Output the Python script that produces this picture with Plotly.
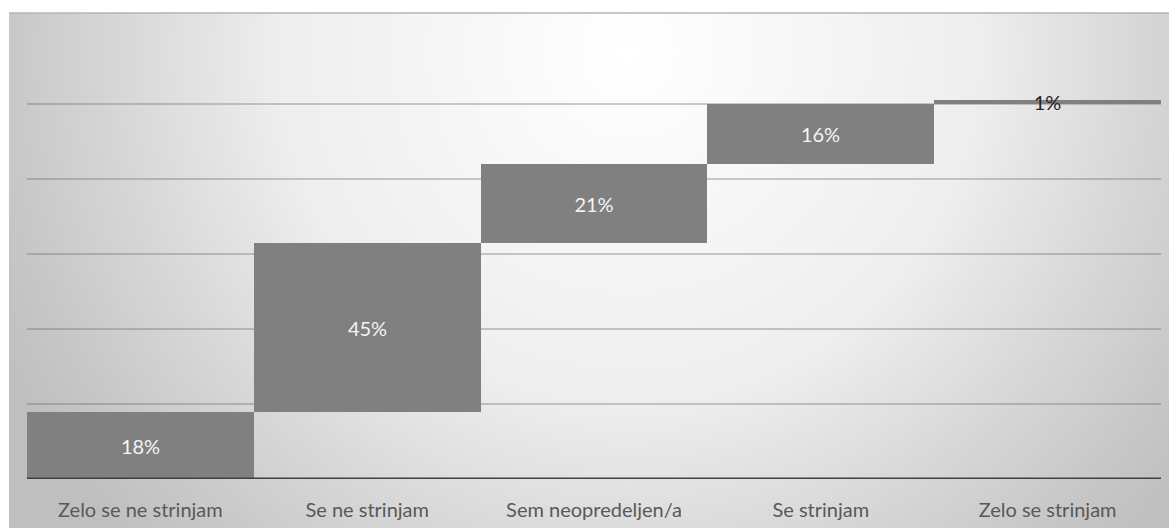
import base64
import numpy as np
import plotly.graph_objects as go

categories = ["Zelo se ne strinjam", "Se ne strinjam", "Sem neopredeljen/a", "Se strinjam", "Zelo se strinjam"]
values = [18, 45, 21, 16, 1]
labels = ["18%", "45%", "21%", "16%", "1%"]
y_ticks = [0, 20, 40, 60, 80, 100, 120]

vals = np.array(values, dtype=float)
bases = np.concatenate([[0], np.cumsum(vals)[:-1]])

W, H = 1169, 528
ml, mr, mt, mb = 27, 8, 29, 49
pw, ph = W - ml - mr, H - mt - mb

svg = (
    '<svg xmlns="http://www.w3.org/2000/svg" width="1160" height="515" viewBox="0 0 1160 515" preserveAspectRatio="none">'
    '<defs><radialGradient id="g" gradientUnits="userSpaceOnUse" cx="620" cy="40" r="700">'
    '<stop offset="0" stop-color="#ffffff"/>'
    '<stop offset="0.5" stop-color="#eeeeee"/>'
    '<stop offset="0.7" stop-color="#dadada"/>'
    '<stop offset="0.9" stop-color="#c7c7c7"/>'
    '<stop offset="1" stop-color="#bfbfbf"/>'
    '</radialGradient></defs>'
    '<rect x="0" y="0" width="1160" height="515" fill="url(#g)"/></svg>'
)
src = "data:image/svg+xml;base64," + base64.b64encode(svg.encode()).decode()

def px_x(p):
    return (p - ml) / pw

def px_y(p):
    return (H - mb - p) / ph

text_colors = ["#f4f4f4"] * (len(values) - 1) + ["#262626"]

fig = go.Figure()
fig.add_trace(go.Bar(
    x=categories, y=vals, base=bases,
    marker=dict(color="#808080", line=dict(width=0)),
    text=labels, textposition="inside", insidetextanchor="middle",
    constraintext="none",
    insidetextfont=dict(color=text_colors, size=20, family="Lato"),
    hoverinfo="skip",
))

fig.add_layout_image(dict(
    source=src, xref="paper", yref="paper",
    x=px_x(9), y=px_y(13), sizex=px_x(1169) - px_x(9), sizey=px_y(13) - px_y(528),
    xanchor="left", yanchor="top", sizing="stretch", layer="below",
))

fig.add_shape(type="line", xref="paper", yref="paper",
              x0=px_x(9), x1=px_x(1169), y0=px_y(13), y1=px_y(13),
              line=dict(color="#b4b4b4", width=1.5))
fig.add_shape(type="line", xref="paper", yref="y",
              x0=0, x1=1, y0=0, y1=0,
              line=dict(color="#404040", width=3))

fig.update_layout(
    width=W, height=H,
    margin=dict(l=ml, r=mr, t=mt, b=mb, pad=0),
    paper_bgcolor="#ffffff", plot_bgcolor="rgba(0,0,0,0)",
    bargap=0, showlegend=False,
    font=dict(family="Lato", size=20, color="#595959"),
    xaxis=dict(showgrid=False, showline=False, ticks="", zeroline=False,
               ticklabelstandoff=17,
               tickfont=dict(size=20, color="#595959")),
    yaxis=dict(range=[0, 120], tickvals=y_ticks, showticklabels=False,
               showgrid=True, gridcolor="rgba(90,90,90,0.3)", gridwidth=1.5,
               zeroline=False, showline=False),
)

fig.write_html("out.html")
